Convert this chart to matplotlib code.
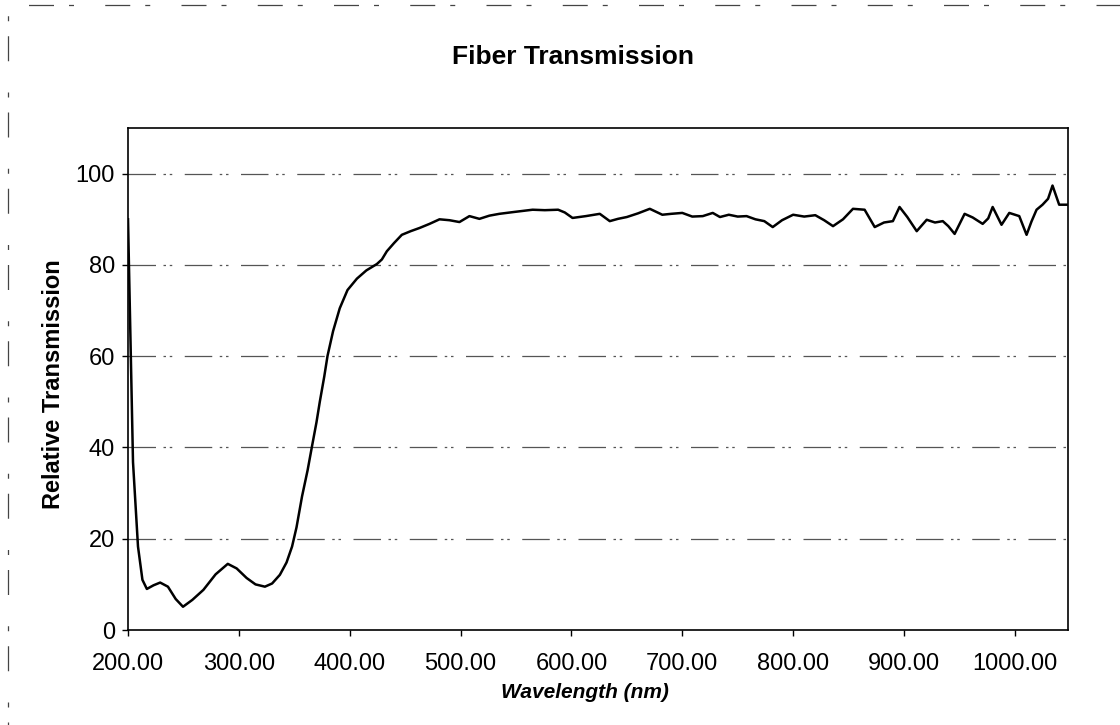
import numpy as np
import matplotlib.pyplot as plt
from matplotlib.patches import Rectangle

plt.rcParams['font.family'] = ['Liberation Sans', 'DejaVu Sans']

# wavelength (nm) and relative transmission
wavelength = [200, 204.5, 209, 213, 217, 223, 229, 236, 243, 249.6, 258, 268, 279, 290,
              298, 307, 315, 323.5, 330, 337, 343, 348, 352, 357, 362, 366, 370, 373,
              377, 380, 385, 391, 398, 406.5, 415, 424.5, 429, 433.5, 440, 447, 455,
              463, 472, 481, 490, 499, 508, 517, 526, 535, 548, 565, 576, 588, 594,
              601, 613, 625.6, 634.6, 642, 650, 660, 670.7, 682, 690, 700, 709, 718.5,
              727.5, 734, 742, 750, 758, 766, 774, 781.6, 790, 800, 810, 820, 828,
              836, 845, 854, 864.5, 873.6, 882, 890, 896, 903, 911.5, 920.5, 928,
              935, 940, 945.7, 954.7, 962, 971, 976, 980, 988, 995, 1004, 1010.6,
              1015, 1019.6, 1025, 1030, 1034, 1040, 1046.7]
transmission = [90, 36.8, 18.3, 11, 9.0, 9.8, 10.4, 9.5, 6.8, 5.1, 6.6, 8.8, 12.2, 14.5,
                13.5, 11.4, 10.0, 9.5, 10.2, 12.1, 14.8, 18.3, 22.5, 29.3, 35, 40.3,
                45.5, 50, 55.5, 60.1, 65.5, 70.5, 74.5, 77, 78.8, 80.2, 81.2, 83, 84.8,
                86.6, 87.4, 88.1, 89.0, 90, 89.8, 89.4, 90.7, 90.1, 90.8, 91.2, 91.6,
                92.1, 92.0, 92.1, 91.5, 90.3, 90.7, 91.2, 89.6, 90.1, 90.5, 91.3,
                92.3, 91, 91.2, 91.4, 90.6, 90.7, 91.4, 90.5, 91.0, 90.6, 90.7, 90.0,
                89.6, 88.3, 89.8, 91, 90.6, 90.9, 89.8, 88.5, 90.0, 92.3, 92.1, 88.3,
                89.3, 89.6, 92.7, 90.5, 87.4, 89.9, 89.3, 89.6, 88.5, 86.8, 91.2,
                90.4, 89, 90.2, 92.7, 88.8, 91.4, 90.7, 86.6, 89.5, 92.1, 93.2, 94.5,
                97.4, 93.2, 93.2]

yticks = [0, 20, 40, 60, 80, 100]
xticks = [200, 300, 400, 500, 600, 700, 800, 900, 1000]

fig = plt.figure(figsize=(11.2, 7.25), dpi=100)
ax = fig.add_axes([0.1143, 0.131, 0.8393, 0.6924])

# gridlines, broken-dash look like the scanned Excel chart
for y in yticks[1:]:
    ax.axhline(y, color='#555555', lw=0.9, dashes=(22, 6, 2, 3, 2, 10), zorder=1)

ax.plot(wavelength, transmission, color='black', lw=1.8, zorder=3)

ax.set_xlim(200, 1048)
ax.set_ylim(0, 110)
ax.set_xticks(xticks)
ax.set_xticklabels(['%.2f' % v for v in xticks])
ax.set_yticks(yticks)
ax.tick_params(axis='both', labelsize=17, direction='out', length=4.5, width=1)
ax.tick_params(axis='x', pad=12)
ax.tick_params(axis='y', pad=5)
for s in ax.spines.values():
    s.set_linewidth(1.2)

ax.set_xlabel('Wavelength (nm)', fontsize=15, fontweight='bold', fontstyle='italic')
ax.set_ylabel('Relative Transmission', fontsize=17, fontweight='bold')
ax.xaxis.set_label_coords(0.486, -0.105)
ax.yaxis.set_label_coords(-0.067, 0.49)
fig.text(0.512, 0.921, 'Fiber Transmission', ha='center', va='center',
         fontsize=19, fontweight='bold')

# faint dashed outer chart border
fig.patches.append(Rectangle((0.007, -0.02), 1.2, 1.013, transform=fig.transFigure,
                             fill=False, ec='#444444', lw=0.9, ls=(0, (20, 25, 4, 12))))

fig.savefig('out.png', dpi=100)
